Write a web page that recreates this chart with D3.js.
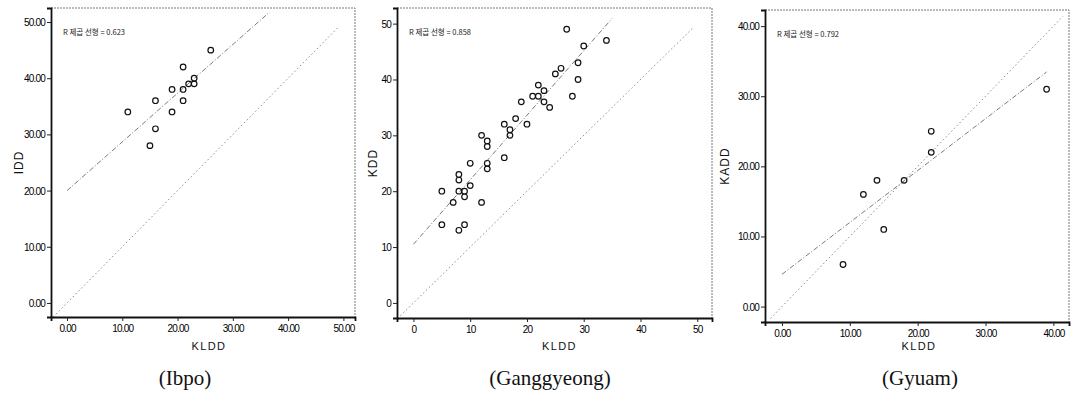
<!DOCTYPE html>
<html><head><meta charset="utf-8">
<script src="https://cdn.jsdelivr.net/npm/d3@7/dist/d3.min.js"></script>
<style>
html,body{margin:0;padding:0;background:#fff;}
svg{display:block;}
.tick text{font-family:"Liberation Sans Narrow","Liberation Sans",Arial,sans-serif;font-size:10px;letter-spacing:-0.8px;fill:#000;}
</style></head>
<body>
<svg id="c" width="1071" height="394"></svg>
<script>
// ---------- DATA ----------
const panelTitles = ["(Ibpo)", "(Ganggyeong)", "(Gyuam)"];
const xLabels = ["KLDD", "KLDD", "KLDD"];
const yLabels = ["IDD", "KDD", "KADD"];
const rSquaredText = ["R 제곱 선형 = 0.623", "R 제곱 선형 = 0.858", "R 제곱 선형 = 0.792"];

const ibpoKLDD = [11, 16, 16, 15, 19, 19, 21, 21, 21, 22, 23, 23, 26];
const ibpoIDD  = [34, 36, 31, 28, 38, 34, 42, 38, 36, 39, 40, 39, 45];

const ganggyeongKLDD = [5, 8, 8, 10, 12, 13, 13, 13, 13, 16, 16, 17, 17, 18, 19, 20, 21, 22, 22, 23, 23, 24, 25, 26, 27, 28, 29, 29, 30, 34, 8, 9, 10, 7, 9, 12, 5, 8, 9];
const ganggyeongKDD  = [20, 23, 22, 25, 30, 29, 28, 25, 24, 26, 32, 31, 30, 33, 36, 32, 37, 39, 37, 38, 36, 35, 41, 42, 49, 37, 43, 40, 46, 47, 20, 20, 21, 18, 19, 18, 14, 13, 14];

const gyuamKLDD = [39, 22, 22, 18, 14, 12, 15, 9];
const gyuamKADD = [31, 25, 22, 18, 18, 16, 11, 6];

// fitted regression lines: intercept, slope, x-extent
const fitIntercept = [20.0, 10.5, 4.6];
const fitSlope     = [0.867, 1.155, 0.74];
const fitXStart    = [0, 0, 0];
const fitXEnd      = [36.7, 35.0, 39.0];
// y = x reference line extent
const refXStart = [-2.5, -2.3, -1.7];
const refXEnd   = [49.0, 49.2, 41.4];

const xTickValues = [[0,10,20,30,40,50],[0,10,20,30,40,50],[0,10,20,30,40]];
const yTickValues = [[0,10,20,30,40,50],[0,10,20,30,40,50],[0,10,20,30,40]];
const tickFormats = [".2f", "d", ".2f"];
const xDomains = [[-2.9, 52.1], [-2.9, 52.6], [-2.5, 42.3]];
const yDomains = [[-2.5, 52.5], [-2.7, 52.8], [-2.2, 42.3]];

const seriesX = [ibpoKLDD, ganggyeongKLDD, gyuamKLDD];
const seriesY = [ibpoIDD, ganggyeongKDD, gyuamKADD];

// ---------- LAYOUT ----------
const boxes = [
  {l: 51, r: 355, t: 8, b: 317, ylab: 19, title: 185, xlabShift: 6},
  {l: 397, r: 712, t: 8, b: 318, ylab: 373, title: 550, xlabShift: 5},
  {l: 765, r: 1069, t: 10, b: 322, ylab: 725, title: 920, xlabShift: 2}
];

const svg = d3.select("#c");

boxes.forEach((B, i) => {
  const x = d3.scaleLinear().domain(xDomains[i]).range([B.l, B.r]);
  const y = d3.scaleLinear().domain(yDomains[i]).range([B.b, B.t]);
  const g = svg.append("g");
  const clipId = "clip" + i;
  svg.append("clipPath").attr("id", clipId).append("rect")
    .attr("x", B.l).attr("y", B.t).attr("width", B.r - B.l).attr("height", B.b - B.t);

  // top & right frame (light)
  g.append("path")
    .attr("d", `M${B.l},${B.t}H${B.r}V${B.b}`)
    .attr("fill", "none").attr("stroke", "#777").attr("stroke-width", 1)
    .attr("stroke-dasharray", "2,1");

  const plot = g.append("g").attr("clip-path", `url(#${clipId})`);

  // y = x dotted reference
  const line = d3.line().x(d => x(d[0])).y(d => y(d[1]));
  plot.append("path")
    .datum([[refXStart[i], refXStart[i]], [refXEnd[i], refXEnd[i]]])
    .attr("d", line).attr("fill", "none")
    .attr("stroke", "#8c8c8c").attr("stroke-width", 1).attr("stroke-dasharray", "1.5,2.5");

  // fit line dash-dot
  const f = v => fitIntercept[i] + fitSlope[i] * v;
  plot.append("path")
    .datum([[fitXStart[i], f(fitXStart[i])], [fitXEnd[i], f(fitXEnd[i])]])
    .attr("d", line).attr("fill", "none")
    .attr("stroke", "#7a7a7a").attr("stroke-width", 1).attr("stroke-dasharray", "5,2,1,2");

  // points
  plot.selectAll("circle").data(seriesX[i].map((v, k) => [v, seriesY[i][k]]))
    .enter().append("circle")
    .attr("cx", d => x(d[0])).attr("cy", d => y(d[1])).attr("r", 2.8)
    .attr("fill", "none").attr("stroke", "#111").attr("stroke-width", 1.2);

  // axes
  const fmt = d3.format(tickFormats[i]);
  const xa = g.append("g").attr("transform", `translate(0,${B.b})`)
    .call(d3.axisBottom(x).tickValues(xTickValues[i]).tickFormat(fmt).tickSizeOuter(0).tickSize(4).tickPadding(4));
  const ya = g.append("g").attr("transform", `translate(${B.l},0)`)
    .call(d3.axisLeft(y).tickValues(yTickValues[i]).tickFormat(fmt).tickSizeOuter(0).tickSize(4).tickPadding(2));
  [xa, ya].forEach(a => {
    a.select(".domain").attr("stroke", "#111").attr("stroke-width", 1.8);
    a.selectAll(".tick line").attr("stroke", "#222").attr("stroke-width", 1);
  });
  ya.selectAll(".tick text").attr("dy", "0.35em");

  // axis labels
  g.append("text")
    .attr("x", (B.l + B.r) / 2 + B.xlabShift).attr("y", 350)
    .attr("text-anchor", "middle")
    .attr("font-family", "Liberation Sans, Arial, sans-serif").attr("font-size", 11)
    .attr("letter-spacing", "1.4px").attr("fill", "#111")
    .text(xLabels[i]);
  g.append("text")
    .attr("transform", `translate(${B.ylab + 4},${(B.t + B.b) / 2}) rotate(-90)`)
    .attr("text-anchor", "middle")
    .attr("font-family", "Liberation Sans, Arial, sans-serif").attr("font-size", 12)
    .attr("letter-spacing", "1px").attr("fill", "#111")
    .text(yLabels[i]);

  // R squared annotation
  g.append("text")
    .attr("x", B.l + 12).attr("y", B.t + 27)
    .attr("font-family", "Noto Sans CJK KR, sans-serif").attr("font-size", 7.5)
    .attr("fill", "#222")
    .text(rSquaredText[i]);

  // panel title
  svg.append("text")
    .attr("x", B.title).attr("y", 385)
    .attr("text-anchor", "middle")
    .attr("font-family", "Liberation Serif, Times New Roman, serif").attr("font-size", 21)
    .attr("fill", "#111")
    .text(panelTitles[i]);
});
</script>
</body></html>
